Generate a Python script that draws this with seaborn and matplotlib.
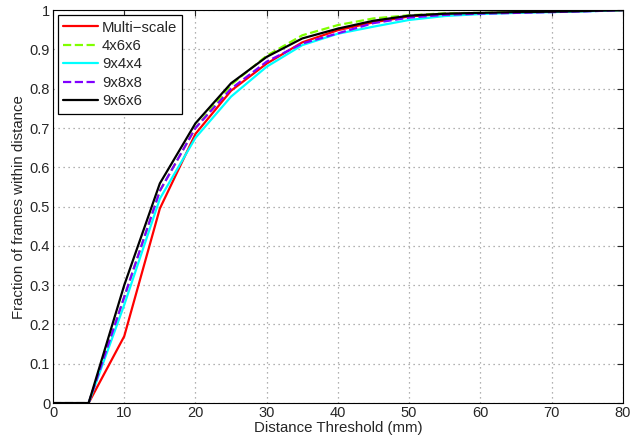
import matplotlib
matplotlib.use("Agg")
import matplotlib.pyplot as plt
import seaborn as sns
import pandas as pd

thresholds = [0, 5, 10, 15, 20, 25, 30, 35, 40, 45, 50, 55, 60, 65, 70, 75, 80]
multi_scale = [0, 0, 0.17, 0.495, 0.685, 0.795, 0.864, 0.918, 0.949, 0.969, 0.984, 0.990, 0.992, 0.994, 0.996, 0.998, 1.0]
s_4x6x6 = [0, 0, 0.27, 0.54, 0.70, 0.81, 0.884, 0.936, 0.962, 0.979, 0.987, 0.992, 0.993, 0.995, 0.996, 0.998, 1.0]
s_9x4x4 = [0, 0, 0.25, 0.52, 0.675, 0.78, 0.856, 0.911, 0.940, 0.958, 0.975, 0.985, 0.990, 0.993, 0.995, 0.997, 1.0]
s_9x8x8 = [0, 0, 0.27, 0.54, 0.70, 0.80, 0.869, 0.915, 0.941, 0.967, 0.981, 0.988, 0.991, 0.993, 0.995, 0.997, 1.0]
s_9x6x6 = [0, 0, 0.30, 0.559, 0.712, 0.814, 0.881, 0.928, 0.953, 0.973, 0.986, 0.991, 0.993, 0.995, 0.996, 0.998, 1.0]

names = ["Multi\u2212scale", "4x6x6", "9x4x4", "9x8x8", "9x6x6"]
series = [multi_scale, s_4x6x6, s_9x4x4, s_9x8x8, s_9x6x6]
colors = ["#ff0000", "#80ff00", "#00ffff", "#8000ff", "#000000"]
styles = ["-", "--", "-", "--", "-"]

sns.set_style("white")
plt.rcParams['font.family'] = ['Liberation Sans', 'DejaVu Sans']

fig = plt.figure(figsize=(6.31, 4.41), dpi=100)
ax = fig.add_axes([0.084, 0.086, 0.903, 0.891])

for name, vals, c, ls in zip(names, series, colors, styles):
    df = pd.DataFrame({"x": thresholds, "y": vals})
    sns.lineplot(data=df, x="x", y="y", ax=ax, color=c, linestyle=ls,
                 linewidth=1.6, label=name)

ax.set_xlim(0, 80)
ax.set_ylim(0, 1)
ax.set_xticks(range(0, 81, 10))
ax.set_yticks([i / 10 for i in range(11)])
ax.set_yticklabels(["0", "0.1", "0.2", "0.3", "0.4", "0.5", "0.6", "0.7", "0.8", "0.9", "1"])
ax.set_xlabel("Distance Threshold (mm)", fontsize=10.8, labelpad=1)
ax.set_ylabel("Fraction of frames within distance", fontsize=10.8, labelpad=3)
ax.tick_params(direction="in", top=True, right=True, labelsize=10.5, length=4, width=0.8, pad=2)
ax.grid(True, linestyle=(0, (1, 3)), color="#999999", linewidth=0.9)
for sp in ax.spines.values():
    sp.set_color("black")
    sp.set_linewidth(0.8)

leg = ax.legend(loc="upper left", fontsize=10.7, frameon=True, fancybox=False,
                edgecolor="black", handlelength=2.3, borderpad=0.35,
                labelspacing=0.3, handletextpad=0.3, borderaxespad=0.35)
leg.get_frame().set_linewidth(0.9)
leg.get_frame().set_alpha(1)

fig.savefig("out.png", dpi=100)
